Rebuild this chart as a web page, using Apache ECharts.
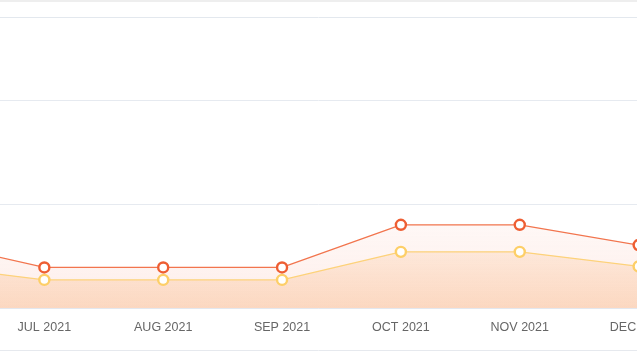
<!DOCTYPE html>
<html>
<head>
<meta charset="utf-8">
<script src="https://cdn.jsdelivr.net/npm/echarts@6/dist/echarts.min.js"></script>
<style>
html,body{margin:0;padding:0;background:#fff;}
#c{width:637px;height:357px;}
</style>
</head>
<body>
<div id="c"></div>
<script>
var categories = ['JUN 2021','JUL 2021','AUG 2021','SEP 2021','OCT 2021','NOV 2021','DEC 2021'];
var seriesRed = [65, 39, 39, 39, 80, 80, 60.5];
var seriesYellow = [41.5, 27, 27, 27, 54, 54, 40];

var chart = echarts.init(document.getElementById('c'));
chart.setOption({
  animation: false,
  grid: {left: -74.5, right: -1.6, top: -4, bottom: 49, containLabel: false, outerBoundsMode: 'none'},
  xAxis: {
    type: 'category',
    data: categories,
    boundaryGap: false,
    axisLine: {show: true, lineStyle: {color: '#e3e7ee', width: 1}},
    axisTick: {show: false},
    axisLabel: {color: '#666666', fontSize: 12.5, margin: 13, fontFamily: 'Liberation Sans, Arial, sans-serif', hideOverlap: false}
  },
  yAxis: {
    type: 'value',
    min: 0, max: 300, interval: 100,
    axisLine: {show: false},
    axisTick: {show: false},
    axisLabel: {show: false},
    splitLine: {lineStyle: {color: '#e6eaf0', width: 1}}
  },
  graphic: [
    {type: 'line', shape: {x1: 0, y1: 1, x2: 637, y2: 1}, style: {stroke: '#e8e8e8', lineWidth: 1.5}},
    {type: 'line', shape: {x1: 0, y1: 17.5, x2: 637, y2: 17.5}, style: {stroke: '#e3e8ee', lineWidth: 1}},
    {type: 'line', shape: {x1: 0, y1: 350.5, x2: 637, y2: 350.5}, style: {stroke: '#e6e9ee', lineWidth: 1}}
  ],
  series: [
    {
      type: 'line',
      data: seriesYellow,
      symbol: 'circle',
      symbolSize: 10,
      z: 3,
      lineStyle: {color: '#fdd27a', width: 1.3},
      itemStyle: {color: '#ffffff', borderColor: '#fdcf68', borderWidth: 2.4},
      areaStyle: {
        color: new echarts.graphic.LinearGradient(0, 0, 0, 1, [
          {offset: 0, color: 'rgba(251,196,150,0.38)'},
          {offset: 1, color: 'rgba(248,185,135,0.6)'}
        ])
      }
    },
    {
      type: 'line',
      data: seriesRed,
      symbol: 'circle',
      symbolSize: 10,
      z: 2,
      lineStyle: {color: '#f2754e', width: 1.3},
      itemStyle: {color: '#ffffff', borderColor: '#ee5e33', borderWidth: 2.4},
      areaStyle: {
        color: new echarts.graphic.LinearGradient(0, 0, 0, 1, [
          {offset: 0, color: 'rgba(245,120,90,0.08)'},
          {offset: 1, color: 'rgba(245,120,90,0.18)'}
        ])
      }
    }
  ]
});
</script>
</body>
</html>
